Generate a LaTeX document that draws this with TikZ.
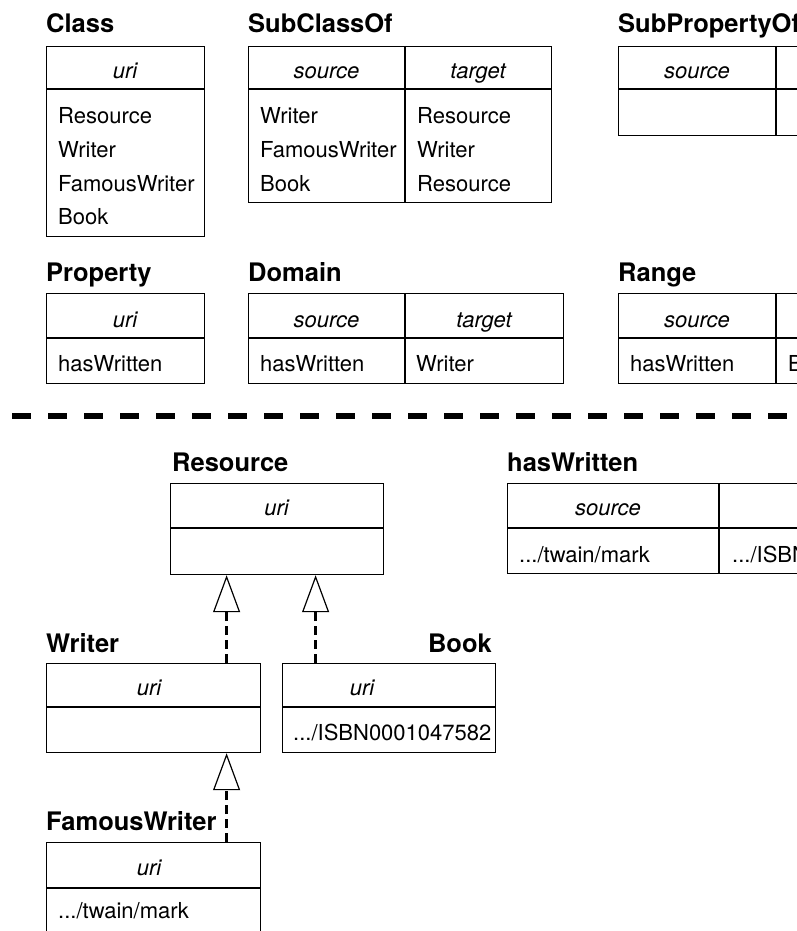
\documentclass[tikz,border=0pt]{standalone}
\usepackage{fontspec}
\setmainfont{TeX Gyre Heros}
\usetikzlibrary{arrows.meta}
\tikzset{
  tbox/.style={draw, line width=1.2pt, inner sep=0pt, anchor=north west},
  rule/.style={line width=1.2pt},
  cell/.style={font=\fontsize{22}{26}\selectfont, inner sep=0pt, anchor=base west},
  hcell/.style={font=\fontsize{22}{26}\selectfont\itshape, inner sep=0pt, anchor=base},
  ttl/.style={font=\fontsize{25.5}{29}\selectfont\bfseries, inner sep=0pt, anchor=base west},
  dep/.style={line width=2.5pt, dash pattern=on 9pt off 5pt,
    -{Triangle[open, length=37pt, width=27pt, line width=1.2pt]}},
  sepline/.style={line width=6.5pt, dash pattern=on 19pt off 17pt},
}
\begin{document}
\begin{tikzpicture}[x=1pt, y=-1pt]
\useasboundingbox (0,0) rectangle (797,931);
\clip (0,0) rectangle (797,931);

% ---------- Class ----------
\node[ttl] (tClass) at (46,33) {Class};
\node[tbox, minimum width=158pt, minimum height=190pt] (class) at (46,46) {};
\draw[rule] (class.west |- 0,89) -- (class.east |- 0,89);
\node[hcell] (classH) at (125,79) {uri};
\node[cell] (c1) at (58,124) {Resource};
\node[cell] (c2) at (58,157.5) {Writer};
\node[cell] (c3) at (58,191) {FamousWriter};
\node[cell] (c4) at (58,224.5) {Book};

% ---------- SubClassOf ----------
\node[ttl] (tSub) at (248,33) {SubClassOf};
\node[tbox, minimum width=303pt, minimum height=156pt] (subc) at (248,46) {};
\draw[rule] (subc.west |- 0,89) -- (subc.east |- 0,89);
\draw[rule] (405,46) -- (405,202);
\node[hcell] (subcH1) at (326.5,79) {source};
\node[hcell] (subcH2) at (478,79) {target};
\node[cell] (s11) at (260,124) {Writer};
\node[cell] (s12) at (417,124) {Resource};
\node[cell] (s21) at (260,157.5) {FamousWriter};
\node[cell] (s22) at (417,157.5) {Writer};
\node[cell] (s31) at (260,191) {Book};
\node[cell] (s32) at (417,191) {Resource};

% ---------- SubPropertyOf ----------
\node[ttl] (tSubP) at (618,33) {SubPropertyOf};
\node[tbox, minimum width=304pt, minimum height=89pt] (subp) at (618,46) {};
\draw[rule] (subp.west |- 0,89) -- (subp.east |- 0,89);
\draw[rule] (776,46) -- (776,135);
\node[hcell] (subpH1) at (697,79) {source};

% ---------- Property ----------
\node[ttl] (tProp) at (46,281) {Property};
\node[tbox, minimum width=158pt, minimum height=90pt] (prop) at (46,293) {};
\draw[rule] (prop.west |- 0,338) -- (prop.east |- 0,338);
\node[hcell] (propH) at (125,327) {uri};
\node[cell] (p1) at (58,371) {hasWritten};

% ---------- Domain ----------
\node[ttl] (tDom) at (248,281) {Domain};
\node[tbox, minimum width=315pt, minimum height=90pt] (dom) at (248,293) {};
\draw[rule] (dom.west |- 0,338) -- (dom.east |- 0,338);
\draw[rule] (405,293) -- (405,383);
\node[hcell] (domH1) at (326.5,327) {source};
\node[hcell] (domH2) at (484,327) {target};
\node[cell] (d1) at (260,371) {hasWritten};
\node[cell] (d2) at (416,371) {Writer};

% ---------- Range ----------
\node[ttl] (tRange) at (618,281) {Range};
\node[tbox, minimum width=304pt, minimum height=90pt] (range) at (618,293) {};
\draw[rule] (range.west |- 0,338) -- (range.east |- 0,338);
\draw[rule] (776,293) -- (776,383);
\node[hcell] (rangeH1) at (697,327) {source};
\node[cell] (r1) at (630,371) {hasWritten};
\node[cell] (r2) at (788,371) {Book};

% ---------- separator ----------
\coordinate (sepL) at (12,416);
\coordinate (sepR) at (810,416);
\draw[sepline] (sepL) -- (sepR);

% ---------- Resource ----------
\node[ttl] (tRes) at (172,471) {Resource};
\node[tbox, minimum width=213pt, minimum height=91pt] (resource) at (170,483) {};
\draw[rule] (resource.west |- 0,528) -- (resource.east |- 0,528);
\node[hcell] (resH) at (276.5,515) {uri};

% ---------- hasWritten ----------
\node[ttl] (tHas) at (507,471) {hasWritten};
\node[tbox, minimum width=423pt, minimum height=90pt] (has) at (507,483) {};
\draw[rule] (has.west |- 0,528) -- (has.east |- 0,528);
\draw[rule] (719,483) -- (719,573);
\node[hcell] (hasH1) at (608,515) {source};
\node[cell] (h1) at (519,562) {.../twain/mark};
\node[cell] (h2) at (732,562) {.../ISBN0001047582};

% ---------- Writer ----------
\node[ttl] (tWriter) at (46,652) {Writer};
\node[tbox, minimum width=214pt, minimum height=89pt] (writer) at (46,663) {};
\draw[rule] (writer.west |- 0,707) -- (writer.east |- 0,707);
\node[hcell] (writerH) at (149,695) {uri};

% ---------- Book ----------
\node[ttl, anchor=base east] (tBook) at (492,652) {Book};
\node[tbox, minimum width=213pt, minimum height=89pt] (book) at (282,663) {};
\draw[rule] (book.west |- 0,707) -- (book.east |- 0,707);
\node[hcell] (bookH) at (362,695) {uri};
\node[cell] (b1) at (293,740) {.../ISBN0001047582};

% ---------- FamousWriter ----------
\node[ttl] (tFam) at (46,830) {FamousWriter};
\node[tbox, minimum width=214pt, minimum height=92pt] (famous) at (46,842) {};
\draw[rule] (famous.west |- 0,888) -- (famous.east |- 0,888);
\node[hcell] (famH) at (149,875) {uri};
\node[cell] (f1) at (58,918) {.../twain/mark};

% ---------- connectors ----------
\draw[dep] ([xshift=73pt]writer.north) -- ([xshift=-50.5pt]resource.south);
\draw[dep] ([xshift=-73.5pt]book.north) -- ([xshift=38.5pt]resource.south);
\draw[dep] ([xshift=73pt]famous.north) -- ([xshift=73pt]writer.south);
\end{tikzpicture}
\end{document}
